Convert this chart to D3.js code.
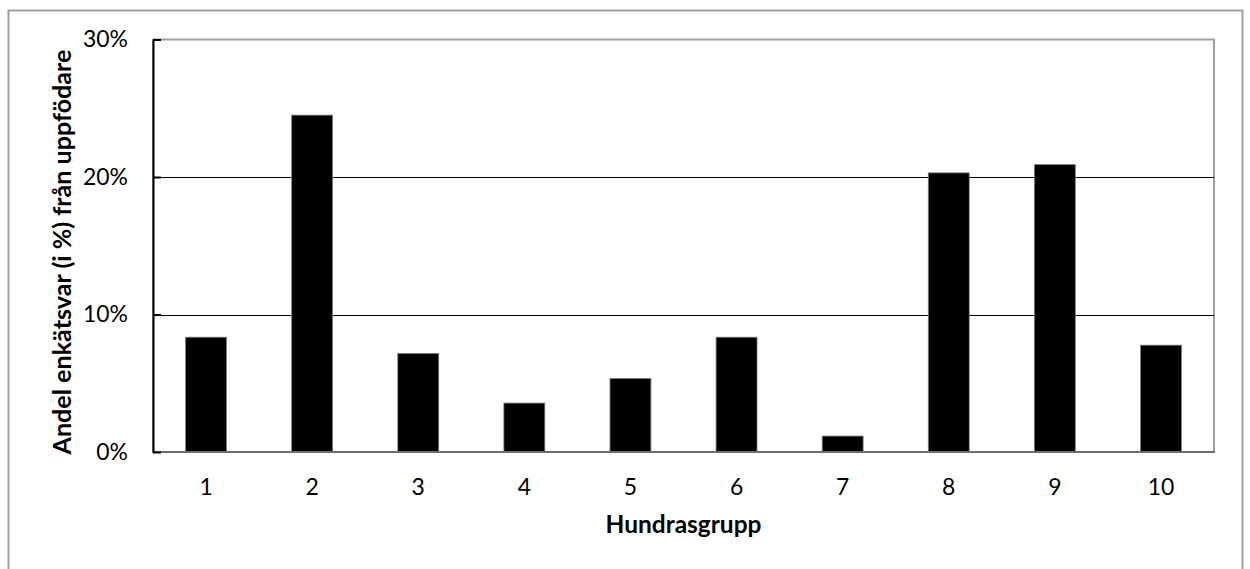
<!DOCTYPE html>
<html>
<head>
<meta charset="utf-8">
<script src="https://cdn.jsdelivr.net/npm/d3@7"></script>
<style>
  html, body { margin: 0; padding: 0; background: #fff; }
  svg { display: block; }
  text { font-family: Lato, "Noto Sans", sans-serif; fill: #000; }
</style>
</head>
<body>
<svg id="chart" width="1250" height="569"></svg>
<script>
const categories = ["1", "2", "3", "4", "5", "6", "7", "8", "9", "10"];
const values = [8.35, 24.5, 7.17, 3.56, 5.35, 8.35, 1.16, 20.3, 20.9, 7.77];
const yTicks = [0, 10, 20, 30];
const yTitle = "Andel enkätsvar (i %) från uppfödare";
const xTitle = "Hundrasgrupp";

const svg = d3.select("#chart");
const plot = { left: 153, right: 1214, top: 39.5, bottom: 452 };

// outer frame
svg.append("rect")
  .attr("x", 8.5).attr("y", 10.5)
  .attr("width", 1242.5 - 8.5).attr("height", 580)
  .attr("fill", "#fff").attr("stroke", "#a0a0a0").attr("stroke-width", 2);

const x = d3.scaleBand().domain(categories)
  .range([plot.left, plot.right])
  .paddingInner(0.614).paddingOuter(0.307);
const y = d3.scaleLinear().domain([0, 30]).range([plot.bottom, plot.top]);

// plot area border (gray)
svg.append("rect")
  .attr("x", plot.left).attr("y", plot.top)
  .attr("width", plot.right - plot.left).attr("height", plot.bottom - plot.top)
  .attr("fill", "none").attr("stroke", "#a0a0a0").attr("stroke-width", 2);

// gridlines
svg.append("g").selectAll("line")
  .data(yTicks.filter(t => t > 0 && t < 30))
  .join("line")
  .attr("x1", plot.left).attr("x2", plot.right)
  .attr("y1", d => Math.round(y(d)) + 0.5).attr("y2", d => Math.round(y(d)) + 0.5)
  .attr("stroke", "#000").attr("stroke-width", 1.2);

// bars
svg.append("g").selectAll("rect")
  .data(values)
  .join("rect")
  .attr("x", (d, i) => x(categories[i]))
  .attr("width", x.bandwidth())
  .attr("y", d => y(d))
  .attr("height", d => y(0) - y(d))
  .attr("fill", "#000")
  .attr("stroke", "#808080").attr("stroke-width", 0.8);

// bottom axis line
svg.append("line")
  .attr("x1", plot.left).attr("x2", plot.right + 1)
  .attr("y1", plot.bottom).attr("y2", plot.bottom)
  .attr("stroke", "#6e6e6e").attr("stroke-width", 2);

// y axis
const yAxis = d3.axisLeft(y).tickValues(yTicks)
  .tickFormat(d => d + "%").tickSizeInner(-8).tickSizeOuter(0).tickPadding(25);
const gy = svg.append("g").attr("transform", `translate(${plot.left},0)`).call(yAxis);
gy.select(".domain").attr("stroke", "#000").attr("stroke-width", 2);
gy.selectAll(".tick line").attr("stroke", "#000").attr("stroke-width", 2);
gy.selectAll(".tick text").attr("font-size", 24).attr("font-family", "Lato, sans-serif").attr("fill", "#000");

// x axis labels
const xAxis = d3.axisBottom(x).tickSize(0).tickPadding(0);
const gx = svg.append("g").attr("transform", `translate(0,${plot.bottom})`).call(xAxis);
gx.select(".domain").remove();
gx.selectAll(".tick text")
  .attr("font-size", 24).attr("font-family", "Lato, sans-serif").attr("fill", "#000")
  .attr("dy", null).attr("y", 43);

// titles
const xt = svg.append("text")
  .attr("x", (plot.left + plot.right) / 2).attr("y", 533)
  .attr("text-anchor", "middle").attr("font-weight", "bold").attr("font-size", 24)
  .text(xTitle);
const yt = svg.append("text")
  .attr("transform", "translate(71,252) rotate(-90)")
  .attr("text-anchor", "middle").attr("font-weight", "bold").attr("font-size", 24)
  .text(yTitle);

// fit font sizes to measured widths from reference
function fit(sel, target) {
  const w = sel.node().getComputedTextLength();
  const fs = parseFloat(sel.attr("font-size"));
  sel.attr("font-size", (fs * target / w).toFixed(2));
}
fit(xt, 156);
fit(yt, 405);
const t30 = gy.selectAll(".tick text").filter(d => d === 30);
const w30 = t30.node().getComputedTextLength();
const fsTick = (24 * 45 / w30).toFixed(2);
gy.selectAll(".tick text").attr("font-size", fsTick);
gx.selectAll(".tick text").attr("font-size", fsTick);
</script>
</body>
</html>
